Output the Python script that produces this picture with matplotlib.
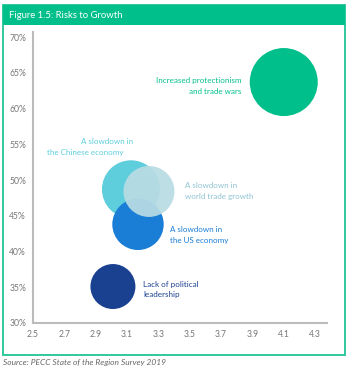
import matplotlib
matplotlib.use("Agg")
import matplotlib.pyplot as plt
from matplotlib.patches import Rectangle

plt.rcParams['font.family'] = ['Lato', 'DejaVu Sans']

# ---- data ----
risks = ["A slowdown in the Chinese economy", "A slowdown in the US economy",
         "A slowdown in world trade growth", "Lack of political leadership",
         "Increased protectionism and trade wars"]
x_vals = [3.125, 3.17, 3.24, 3.01, 4.10]
y_vals = [48.7, 43.8, 48.4, 35.1, 63.7]
bubble_size = [29, 25.7, 25.5, 22.5, 34]
x_ticks = [2.5, 2.7, 2.9, 3.1, 3.3, 3.5, 3.7, 3.9, 4.1, 4.3]
y_ticks = [30, 35, 40, 45, 50, 55, 60, 65, 70]

colors = ["#5ECDDC", "#1A7ED6", "#B9DCE4", "#1A4190", "#00BF8A"]
text_colors = ["#5ECDDC", "#1A7ED6", "#8FC3D3", "#1A4190", "#00BF8A"]

W, H = 350, 370
fig = plt.figure(figsize=(W/100, H/100), dpi=100)

def fx(px):
    return px / W

def fy(py):
    return 1 - py / H

# frame and header
fig.patches.append(Rectangle((fx(3), fy(355)), fx(345) - fx(3), fy(5) - fy(355),
                             transform=fig.transFigure, fill=False,
                             edgecolor="#1FC495", linewidth=1.3, zorder=0))
fig.patches.append(Rectangle((fx(3), fy(25)), fx(345) - fx(3), fy(5) - fy(25),
                             transform=fig.transFigure, facecolor="#00BF8A",
                             edgecolor="none", zorder=0))
fig.text(fx(9), fy(15), "Figure 1.5: Risks to Growth", color="white",
         fontsize=6.8, va="center", ha="left")

ax = fig.add_axes([fx(33), fy(323), fx(327) - fx(33), fy(32) - fy(323)])
ax.set_xlim(2.5, 4.376)
ax.set_ylim(30, 70.7)

alphas = [1, 1, 0.92, 1, 1]
for i in range(len(risks)):
    d_pt = 2 * bubble_size[i] * 0.72
    ax.scatter([x_vals[i]], [y_vals[i]], s=d_pt ** 2, color=colors[i],
               alpha=alphas[i], edgecolors="none", zorder=2 + i)

ax.set_xticks(x_ticks)
ax.set_xticklabels([f"{v:.1f}" for v in x_ticks])
ax.set_yticks(y_ticks)
ax.set_yticklabels([f"{v}%" for v in y_ticks])
ax.tick_params(length=0, labelsize=6.2, colors="#777777", pad=5)
for s in ["top", "right"]:
    ax.spines[s].set_visible(False)
for s in ["left", "bottom"]:
    ax.spines[s].set_color("#BBBBBB")
    ax.spines[s].set_linewidth(1.5)

fs = 5.8
# labels (pixel positions)
fig.text(fx(241), fy(80), "Increased protectionism", color=text_colors[4], fontsize=fs, ha="right", va="center")
fig.text(fx(241), fy(91), "and trade wars", color=text_colors[4], fontsize=fs, ha="right", va="center")
fig.text(fx(133), fy(141), "A slowdown in", color=text_colors[0], fontsize=fs, ha="right", va="center")
fig.text(fx(124), fy(152), "the Chinese economy", color=text_colors[0], fontsize=fs, ha="right", va="center")
fig.text(fx(185), fy(186), "A slowdown in", color=text_colors[2], fontsize=fs, ha="left", va="center")
fig.text(fx(185), fy(197), "world trade growth", color=text_colors[2], fontsize=fs, ha="left", va="center")
fig.text(fx(170), fy(229), "A slowdown in", color=text_colors[1], fontsize=fs, ha="left", va="center")
fig.text(fx(170), fy(240), "the US economy", color=text_colors[1], fontsize=fs, ha="left", va="center")
fig.text(fx(143), fy(284), "Lack of political", color=text_colors[3], fontsize=fs, ha="left", va="center")
fig.text(fx(143), fy(294), "leadership", color=text_colors[3], fontsize=fs, ha="left", va="center")

fig.text(fx(3), fy(363), "Source: PECC State of the Region Survey 2019", color="#666666",
         fontsize=6.0, style="italic", ha="left", va="center")

fig.savefig("out.png", dpi=100)
